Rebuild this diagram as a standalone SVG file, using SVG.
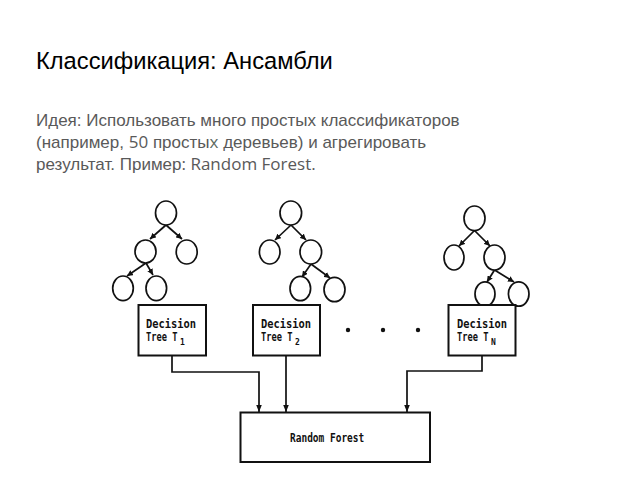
<svg xmlns="http://www.w3.org/2000/svg" width="638" height="479" viewBox="0 0 638 479">
<defs>
<style>
.title{font-family:"Liberation Sans",Arial,sans-serif;font-size:23.7px;fill:#000}
.body{font-family:"Liberation Sans",Arial,sans-serif;font-size:17px;fill:#595959}
.os{font-family:"Open Sans",sans-serif}
.node{fill:#fff;stroke:#111;stroke-width:1.7}
.edge{fill:none;stroke:#111;stroke-width:1.7}
.box{fill:#fff;stroke:#111;stroke-width:2}
.lbl{font-family:"DejaVu Sans Mono","Liberation Mono",monospace;font-weight:bold;font-size:13px;fill:#111}
.sub{font-family:"DejaVu Sans Mono","Liberation Mono",monospace;font-weight:bold;font-size:8px;fill:#111}
.conn{fill:none;stroke:#111;stroke-width:1.7}
</style>
<marker id="ah" viewBox="0 0 10 10" refX="10" refY="5" markerWidth="6" markerHeight="6" orient="auto" markerUnits="userSpaceOnUse">
<path d="M0,0 L10,5 L0,10 z" fill="#111"/>
</marker>
<marker id="ad" viewBox="0 0 10 10" refX="10" refY="5" markerWidth="7" markerHeight="7" orient="auto" markerUnits="userSpaceOnUse">
<path d="M0,1 L10,5 L0,9 z" fill="#111"/>
</marker>
</defs>
<rect width="638" height="479" fill="#fff"/>
<text class="title" x="36" y="69">Классификация: Ансамбли</text>
<text class="body" x="36" y="126">Идея: Использовать много простых классификаторов</text>
<text class="body" x="36" y="148">(например, <tspan class="os">50</tspan> просты<tspan class="os" fill="#5d6b5f">х</tspan> деревьев) и агрегировать</text>
<text class="body" x="36" y="170">результат. Пример<tspan class="os">: Random Forest.</tspan></text>

<g id="tree1">
<path class="edge" marker-end="url(#ah)" d="M166,225 L150,239"/>
<path class="edge" marker-end="url(#ah)" d="M166,225 L182,239"/>
<path class="edge" marker-end="url(#ah)" d="M146,263 L127,276"/>
<path class="edge" marker-end="url(#ah)" d="M146,263 L153,275"/>
<ellipse class="node" cx="166" cy="213" rx="10.5" ry="12"/>
<ellipse class="node" cx="145.5" cy="251.5" rx="10.5" ry="11.5"/>
<ellipse class="node" cx="186.7" cy="252" rx="10.5" ry="12"/>
<ellipse class="node" cx="123" cy="288.3" rx="10.3" ry="12.3"/>
<ellipse class="node" cx="156.3" cy="288.3" rx="10.3" ry="12.3"/>
</g>
<g id="tree2">
<path class="edge" marker-end="url(#ah)" d="M291,225 L275,240"/>
<path class="edge" marker-end="url(#ah)" d="M291,225 L306,240"/>
<path class="edge" marker-end="url(#ah)" d="M311,264 L302,277"/>
<path class="edge" marker-end="url(#ah)" d="M311,264 L330,278"/>
<ellipse class="node" cx="290.8" cy="213" rx="10.8" ry="12"/>
<ellipse class="node" cx="269.7" cy="252" rx="10.3" ry="12"/>
<ellipse class="node" cx="310.8" cy="252" rx="10.8" ry="12"/>
<ellipse class="node" cx="300.3" cy="288.5" rx="10.3" ry="12.2"/>
<ellipse class="node" cx="334.5" cy="289.5" rx="10.5" ry="12.2"/>
</g>
<g id="treeN">
<path class="edge" marker-end="url(#ah)" d="M474.5,230.5 L459,246"/>
<path class="edge" marker-end="url(#ah)" d="M474.5,230.5 L490,246"/>
<path class="edge" marker-end="url(#ah)" d="M494.5,270 L487,282"/>
<path class="edge" marker-end="url(#ah)" d="M494.5,270 L514,282"/>
<ellipse class="node" cx="474.5" cy="218.3" rx="10.5" ry="12.3"/>
<ellipse class="node" cx="454" cy="257.5" rx="10" ry="12.5"/>
<ellipse class="node" cx="494.5" cy="257.5" rx="10.5" ry="12.5"/>
<ellipse class="node" cx="485" cy="294" rx="10" ry="12.2"/>
<ellipse class="node" cx="518.7" cy="294" rx="10.3" ry="12.2"/>
</g>

<g id="box1">
<rect class="box" x="138.5" y="305" width="67.5" height="50.5"/>
<text class="lbl" transform="matrix(0.8,0,0,1,146,328)">Decision</text>
<text class="lbl" transform="matrix(0.67,0,0,1,146,341)">Tree T</text>
<text class="sub" x="180" y="345">1</text>
</g>
<g id="box2">
<rect class="box" x="253" y="305" width="67" height="50.5"/>
<text class="lbl" transform="matrix(0.8,0,0,1,261,328)">Decision</text>
<text class="lbl" transform="matrix(0.67,0,0,1,261,341)">Tree T</text>
<text class="sub" x="295" y="345">2</text>
</g>
<g id="dots" fill="#111">
<circle cx="348" cy="330" r="2.2"/>
<circle cx="383" cy="330" r="2.2"/>
<circle cx="418" cy="330" r="2.2"/>
</g>
<g id="boxN">
<rect class="box" x="448.5" y="305" width="67" height="50.5"/>
<text class="lbl" transform="matrix(0.8,0,0,1,457,328)">Decision</text>
<text class="lbl" transform="matrix(0.67,0,0,1,457,341)">Tree T</text>
<text class="sub" x="491" y="345">N</text>
</g>
<g id="rf">
<rect class="box" x="240.5" y="412.5" width="189.5" height="49.5"/>
<text class="lbl" transform="matrix(0.73,0,0,1,290,442)" font-size="14">Random Forest</text>
</g>

<g id="connectors">
<path class="conn" marker-end="url(#ad)" d="M172,356 V372 H259 V412"/>
<path class="conn" marker-end="url(#ad)" d="M286,356 V412"/>
<path class="conn" marker-end="url(#ad)" d="M482,356 V371 H407 V412"/>
</g>
</svg>
